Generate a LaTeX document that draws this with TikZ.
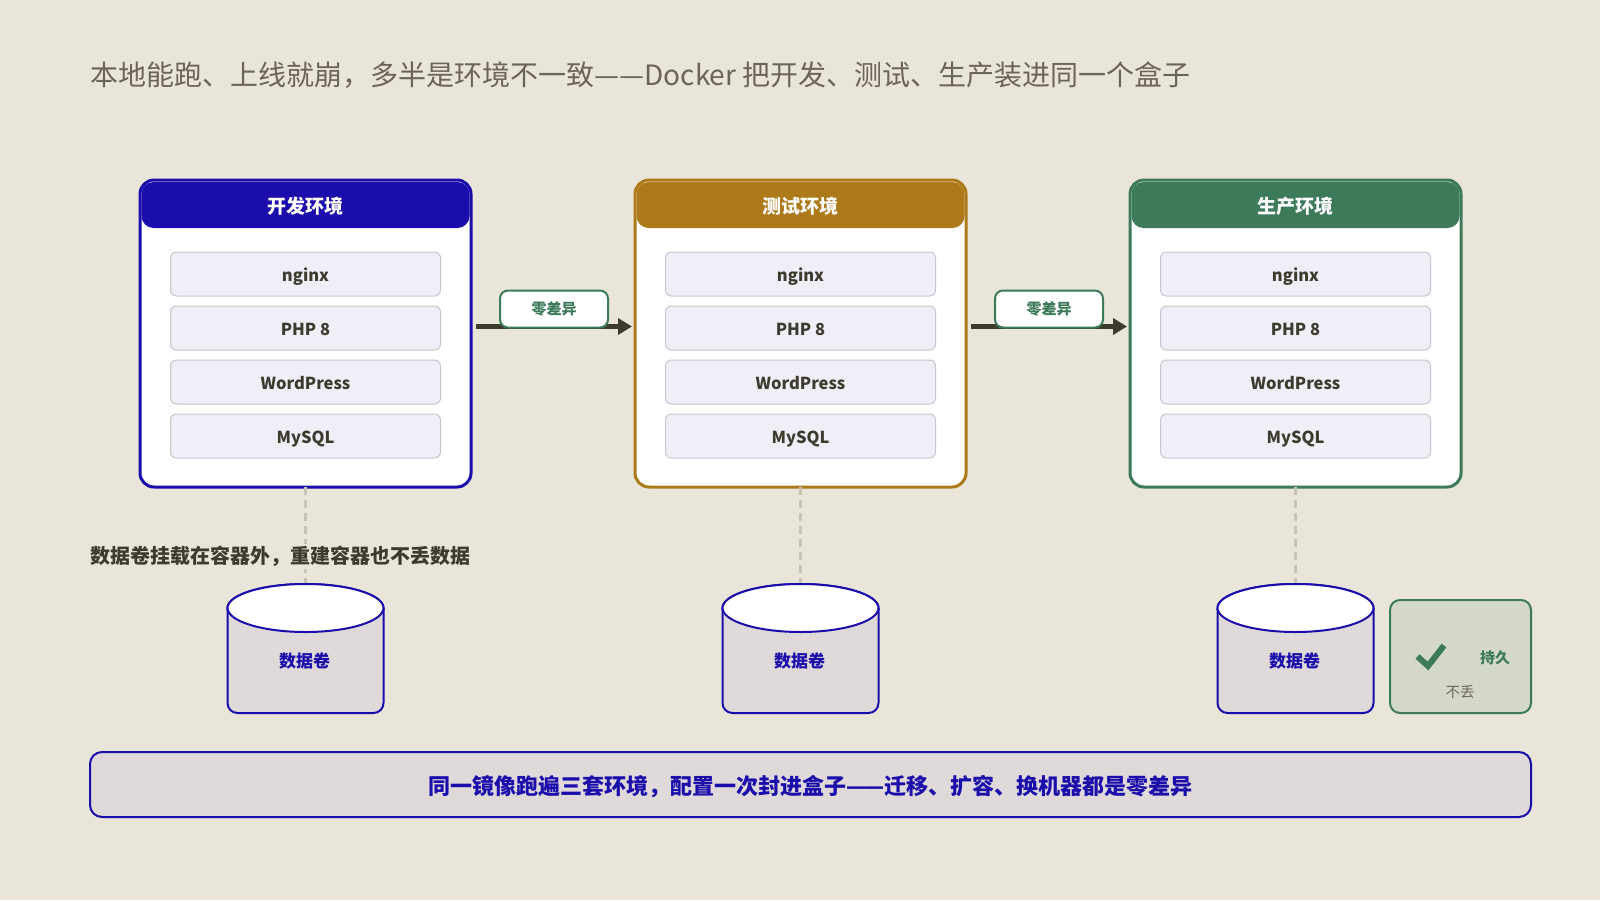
\documentclass[tikz,border=0pt]{standalone}
\usepackage{fontspec}
\setmainfont{Noto Sans CJK SC}
\usetikzlibrary{arrows.meta, positioning, shapes.geometric}

\definecolor{paper}{HTML}{E9E5D8}
\definecolor{ink}{HTML}{3D3A2E}
\definecolor{titleink}{HTML}{6B6558}
\definecolor{devblue}{HTML}{1A0DAB}
\definecolor{testamber}{HTML}{AD7A1A}
\definecolor{prodgreen}{HTML}{3D7A5A}
\definecolor{layerfill}{HTML}{F0EFF8}
\definecolor{layerline}{HTML}{C8C6CC}
\definecolor{volfill}{HTML}{E0D9D9}
\definecolor{checkfill}{HTML}{D4D8C8}
\definecolor{linkline}{HTML}{C8C3B4}

\tikzset{
    every node/.style={outer sep=0pt, inner sep=0pt},
    envbox/.style={draw, line width=3pt, fill=white, rounded corners=14pt, minimum width=331pt, minimum height=307pt},
    envhead/.style={rounded corners=12pt, minimum width=328pt, minimum height=46pt, text height=18pt, text depth=2pt, text=white, font=\fontsize{19}{23}\selectfont\bfseries},
    layer/.style={draw=layerline, line width=1pt, fill=layerfill, rounded corners=6pt, minimum width=270pt, minimum height=44pt, text height=18pt, text depth=4pt, text=ink, font=\fontsize{16.5}{20}\selectfont\bfseries},
    flow/.style={draw=ink, line width=5pt, -{Triangle[length=14pt, width=16pt]}, shorten <=5pt, shorten >=3pt},
    badge/.style={draw=prodgreen, line width=2pt, fill=white, rounded corners=8pt, minimum width=108pt, minimum height=37pt, text=prodgreen, font=\fontsize{15}{18}\selectfont\bfseries},
    link/.style={draw=linkline, line width=3.5pt, dash pattern=on 8pt off 5pt},
    volbase/.style={minimum width=156pt, minimum height=105pt},
    volbody/.style={draw=devblue, line width=2pt, fill=volfill, rounded corners=10pt},
    voltop/.style={ellipse, draw=devblue, line width=2pt, fill=white, minimum width=156pt, minimum height=48pt},
    vollabel/.style={text=devblue, font=\fontsize{17}{20}\selectfont\bfseries},
}

\begin{document}
\begin{tikzpicture}[x=1pt, y=-1pt]
    \fill[paper] (0,0) rectangle (1600,900);
    \useasboundingbox (0,0) rectangle (1600,900);

    % Title
    \node[anchor=west, text=titleink, font=\fontsize{28}{34}\selectfont] (title) at (90,75)
        {本地能跑、上线就崩，多半是环境不一致—\hspace{0.5pt}—Docker 把开发、测试、生产装进同一个盒子};

    % Draw the environments
    \node[envbox, draw=devblue]   (dev)  at (305.5,333.5) {};
    \node[envbox, draw=testamber] (test) at (800.5,333.5) {};
    \node[envbox, draw=prodgreen] (prod) at (1295.5,333.5) {};

    \node[envhead, fill=devblue, below=2pt of dev.north]     (devhead)  {开发环境};
    \node[envhead, fill=testamber, below=2pt of test.north]  (testhead) {测试环境};
    \node[envhead, fill=prodgreen, below=2pt of prod.north]  (prodhead) {生产环境};

    \node[layer, below=24pt of devhead]  (devnginx) {nginx};
    \node[layer, below=10pt of devnginx] (devphp)   {PHP 8};
    \node[layer, below=10pt of devphp]   (devwp)    {WordPress};
    \node[layer, below=10pt of devwp]    (devsql)   {MySQL};

    \node[layer, below=24pt of testhead]  (testnginx) {nginx};
    \node[layer, below=10pt of testnginx] (testphp)   {PHP 8};
    \node[layer, below=10pt of testphp]   (testwp)    {WordPress};
    \node[layer, below=10pt of testwp]    (testsql)   {MySQL};

    \node[layer, below=24pt of prodhead]  (prodnginx) {nginx};
    \node[layer, below=10pt of prodnginx] (prodphp)   {PHP 8};
    \node[layer, below=10pt of prodphp]   (prodwp)    {WordPress};
    \node[layer, below=10pt of prodwp]    (prodsql)   {MySQL};

    % Connect the environments
    \draw[flow] ([yshift=7pt]dev.east) -- ([yshift=7pt]test.west);
    \draw[flow] ([yshift=7pt]test.east) -- ([yshift=7pt]prod.west);
    \node[badge] (badgeone) at (554,309) {零差异};
    \node[badge] (badgetwo) at (1049,309) {零差异};

    % Volumes
    \node[volbase] (devvol)  at (305.5,660.5) {};
    \node[volbase] (testvol) at (800.5,660.5) {};
    \node[volbase] (prodvol) at (1295.5,660.5) {};

    \node[voltop] (devtop)  at (305.5,608) {};
    \node[voltop] (testtop) at (800.5,608) {};
    \node[voltop] (prodtop) at (1295.5,608) {};

    \draw[link] (dev.south) -- (devtop.north);
    \draw[link] (test.south) -- (testtop.north);
    \draw[link] (prod.south) -- (prodtop.north);

    \draw[volbody] (devvol.north west) -- (devvol.south west) -- (devvol.south east) -- (devvol.north east);
    \draw[volbody] (testvol.north west) -- (testvol.south west) -- (testvol.south east) -- (testvol.north east);
    \draw[volbody] (prodvol.north west) -- (prodvol.south west) -- (prodvol.south east) -- (prodvol.north east);

    \node[voltop] (devcap)  at (devtop) {};
    \node[voltop] (testcap) at (testtop) {};
    \node[voltop] (prodcap) at (prodtop) {};

    \node[vollabel] (devvolname)  at ([xshift=-1pt,yshift=-1pt]devvol) {数据卷};
    \node[vollabel] (testvolname) at ([xshift=-1pt,yshift=-1pt]testvol) {数据卷};
    \node[vollabel] (prodvolname) at ([xshift=-1pt,yshift=-1pt]prodvol) {数据卷};

    % Caption over the first link
    \node[anchor=west, fill=paper, inner sep=2pt, text=ink, font=\fontsize{20}{24}\selectfont\bfseries] (note) at (88,556.5)
        {数据卷挂载在容器外，重建容器也不丢数据};

    % Persistence card
    \node[draw=prodgreen, line width=2pt, fill=checkfill, rounded corners=10pt, minimum width=141pt, minimum height=113pt] (card) at (1460.5,656.5) {};
    \draw[prodgreen, line width=6pt] (1417.5,656.5) -- (1428,666) -- (1444,645.5);
    \node[text=prodgreen, font=\fontsize{15}{18}\selectfont\bfseries] (cardtitle) at (1495,658) {持久};
    \node[text=titleink, font=\fontsize{14.5}{18}\selectfont] (cardnote) at (1460,692) {不丢};

    % Summary bar
    \node[draw=devblue, line width=2pt, fill=volfill, rounded corners=12pt, minimum width=1441pt, minimum height=65pt,
        text height=21pt, text depth=2pt, text=devblue, font=\fontsize{22}{26}\selectfont\bfseries] (summary) at (810.5,784.5)
        {同一镜像跑遍三套环境，配置一次封进盒子—\hspace{-1.5pt}—迁移、扩容、换机器都是零差异};
\end{tikzpicture}
\end{document}
